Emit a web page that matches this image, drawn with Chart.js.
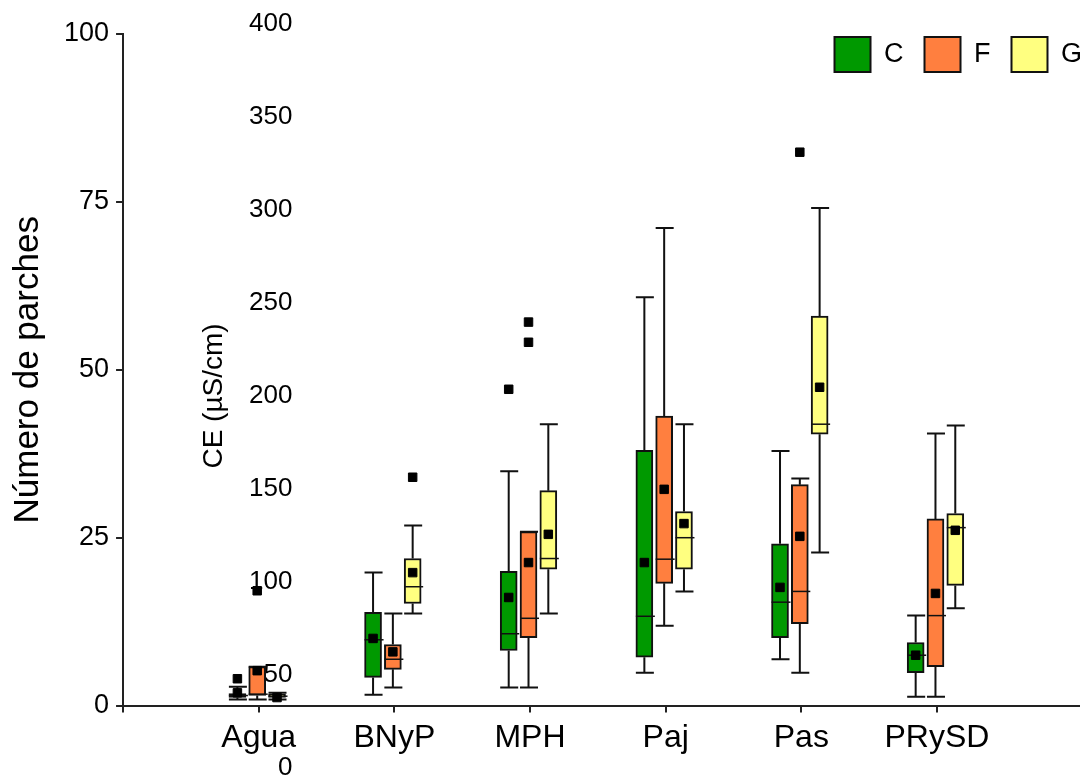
<!DOCTYPE html>
<html>
<head>
<meta charset="utf-8">
<script src="https://cdn.jsdelivr.net/npm/chart.js@4.4.1/dist/chart.umd.min.js"></script>
<style>
  body { margin: 0; background: #fff; }
</style>
</head>
<body>
<canvas id="myChart" width="1092" height="778"></canvas>
<script>
var categories = ["Agua", "BNyP", "MPH", "Paj", "Pas", "PRySD"];
var groups = ["C", "F", "G"];
var groupColors = ["#009900", "#FF7F3F", "#FFFF80"];

// [bigote inf, Q1, mediana, Q3, bigote sup] por categoría
var boxC = [
  [0.9, 1.2, 1.5, 1.8, 2.8],
  [1.6, 4.2, 9.8, 13.9, 19.8],
  [2.7, 8.2, 10.7, 20.0, 34.9],
  [4.9, 7.2, 13.3, 38.0, 60.8],
  [6.9, 10.1, 15.4, 24.1, 37.9],
  [1.3, 4.9, 7.5, 9.4, 13.4],
];
var boxF = [
  [0.9, 1.5, 1.7, 5.8, 5.8],
  [2.7, 5.4, 6.9, 9.1, 13.7],
  [2.7, 10.1, 13.0, 25.9, 25.9],
  [11.9, 18.2, 21.8, 43.1, 71.1],
  [4.9, 12.2, 17.0, 32.9, 33.8],
  [1.3, 5.8, 13.4, 27.8, 40.5],
];
var boxG = [
  [0.9, 1.2, 1.4, 1.7, 1.9],
  [13.7, 15.2, 17.7, 21.9, 26.8],
  [13.7, 20.3, 21.9, 32.0, 41.9],
  [17.0, 20.3, 25.0, 28.9, 41.9],
  [22.8, 40.4, 41.9, 58.0, 74.1],
  [14.5, 17.9, 26.5, 28.6, 41.7],
];
var meanC = [1.9, 10.0, 16.1, 21.3, 17.6, 7.5];
var meanF = [5.2, 8.0, 21.3, 32.2, 25.2, 16.7];
var meanG = [1.2, 19.8, 25.5, 27.1, 47.4, 26.1];
// atípicos: [índice de categoría, valor]
var outC = [[0, 4.0], [2, 47.1]];
var outF = [[0, 17.1], [2, 54.1], [2, 57.1], [4, 82.4]];
var outG = [[1, 34.0]];

var xTicks = [0, 1, 2, 3, 4, 5, 6];
var yTicks = [0, 25, 50, 75, 100];
var ceTicks = [0, 50, 100, 150, 200, 250, 300, 350, 400];

var boxes = [boxC, boxF, boxG];
var means = [meanC, meanF, meanG];
var outliers = [outC, outF, outG];
var shift = [-0.157, -0.011, 0.135];
var font = "'Liberation Sans', Arial, sans-serif";

Chart.defaults.font.family = font;
Chart.defaults.color = "#000";

var datasets = groups.map(function (g, k) {
  return {
    type: "bar",
    label: g,
    order: 1,
    data: boxes[k].map(function (b, i) {
      return { x: i + 1 + shift[k], y: [b[1], b[3]] };
    }),
    backgroundColor: groupColors[k],
    borderColor: "#111",
    borderWidth: 2,
    borderSkipped: false,
    grouped: false,
    barPercentage: 1,
    categoryPercentage: 1,
    maxBarThickness: 17,
  };
});

var meanPts = [];
var outPts = [];
groups.forEach(function (g, k) {
  means[k].forEach(function (v, i) {
    meanPts.push({ x: i + 1 + shift[k], y: v });
  });
  outliers[k].forEach(function (o) {
    outPts.push({ x: o[0] + 1 + shift[k], y: o[1] });
  });
});
[meanPts, outPts].forEach(function (pts, n) {
  datasets.push({
    type: "scatter",
    label: n ? "atípicos" : "media",
    order: 0,
    data: pts,
    pointStyle: "rect",
    pointRadius: 6,
    backgroundColor: "#000",
    borderColor: "#000",
    borderWidth: 1,
  });
});

// bigotes y medianas encima de cada caja
var whiskers = {
  id: "whiskers",
  afterDatasetDraw: function (chart, args) {
    if (args.meta.type !== "bar") return;
    var stats = boxes[args.index];
    var y = chart.scales.y;
    var ctx = chart.ctx;
    ctx.save();
    ctx.strokeStyle = "#111";
    args.meta.data.forEach(function (bar, i) {
      var s = stats[i];
      var half = bar.width / 2;
      var lo = y.getPixelForValue(s[0]);
      var q1 = y.getPixelForValue(s[1]);
      var med = y.getPixelForValue(s[2]);
      var q3 = y.getPixelForValue(s[3]);
      var hi = y.getPixelForValue(s[4]);
      ctx.lineWidth = 2;
      ctx.beginPath();
      ctx.moveTo(bar.x, q1);
      ctx.lineTo(bar.x, lo);
      ctx.moveTo(bar.x - half, lo);
      ctx.lineTo(bar.x + half + 1, lo);
      ctx.moveTo(bar.x, q3);
      ctx.lineTo(bar.x, hi);
      ctx.moveTo(bar.x - half, hi);
      ctx.lineTo(bar.x + half + 1, hi);
      ctx.stroke();
      ctx.lineWidth = 1.5;
      ctx.beginPath();
      ctx.moveTo(bar.x - half, med);
      ctx.lineTo(bar.x + half + 2, med);
      ctx.stroke();
    });
    ctx.restore();
  },
};

// la leyenda va dentro del área del gráfico, sin empujarla hacia abajo
var legendInside = {
  id: "legendInside",
  beforeInit: function (chart) {
    var fit = chart.legend.fit;
    chart.legend.fit = function () {
      fit.call(this);
      this.fullHeight = this.height;
      this.height = 18;
    };
  },
  afterLayout: function (chart, args, opts) {
    var legend = chart.legend;
    legend.height = legend.fullHeight;
    legend.bottom = legend.top + legend.fullHeight;
    legend.right += opts.shiftRight;
    legend.width += opts.shiftRight;
  },
};

// título vertical del eje de CE
var ceTitle = {
  id: "ceTitle",
  afterDraw: function (chart, args, opts) {
    var ce = chart.scales.ce;
    var top = ce.getPixelForValue(ceTicks[ceTicks.length - 1]);
    var bottom = ce.getPixelForValue(ceTicks[0]);
    var ctx = chart.ctx;
    ctx.save();
    ctx.translate(chart.scales.x.getPixelForValue(opts.at), (top + bottom) / 2);
    ctx.rotate(-Math.PI / 2);
    ctx.font = "28px " + font;
    ctx.fillStyle = "#000";
    ctx.textAlign = "center";
    ctx.textBaseline = "middle";
    ctx.fillText(opts.text, 0, 0);
    ctx.restore();
  },
};

new Chart("myChart", {
  data: { datasets: datasets },
  plugins: [whiskers, legendInside, ceTitle],
  options: {
    responsive: false,
    animation: false,
    layout: { padding: { top: 16, left: 3, right: 12.6, bottom: 15 } },
    plugins: {
      tooltip: { enabled: false },
      legend: {
        align: "end",
        labels: {
          boxWidth: 36,
          boxHeight: 35,
          padding: 21,
          font: { size: 27 },
          filter: function (item) {
            return item.datasetIndex < groups.length;
          },
        },
      },
      legendInside: { shiftRight: 23.6 },
      ceTitle: { text: "CE (µS/cm)", at: 0.67 },
    },
    scales: {
      x: {
        type: "linear",
        min: 0,
        max: 7.05,
        offset: false,
        afterBuildTicks: function (scale) {
          scale.ticks = xTicks.map(function (v) { return { value: v }; });
        },
        ticks: {
          autoSkip: false,
          maxRotation: 0,
          padding: 6,
          font: { size: 32 },
          callback: function (v) {
            return categories[v - 1] || "";
          },
        },
        grid: {
          offset: false,
          drawOnChartArea: false,
          tickLength: 7,
          lineWidth: 2,
          color: "#222",
        },
        border: { color: "#222", width: 2 },
      },
      y: {
        min: 0,
        max: 100,
        afterBuildTicks: function (scale) {
          scale.ticks = yTicks.map(function (v) { return { value: v }; });
        },
        ticks: { padding: 7, font: { size: 27 } },
        grid: { drawOnChartArea: false, tickLength: 7, lineWidth: 2, color: "#222" },
        border: { color: "#222", width: 2 },
        title: {
          display: true,
          text: "Número de parches",
          font: { size: 35 },
          padding: { top: 4, bottom: 8 },
        },
      },
      ce: {
        type: "linear",
        axis: "y",
        position: { x: 1.248 },
        min: 33.6,
        max: 394.5,
        afterBuildTicks: function (scale) {
          scale.ticks = ceTicks.map(function (v) { return { value: v }; });
        },
        ticks: { autoSkip: false, font: { size: 26 } },
        grid: { display: false },
        border: { display: false },
      },
    },
  },
});
</script>
</body>
</html>
